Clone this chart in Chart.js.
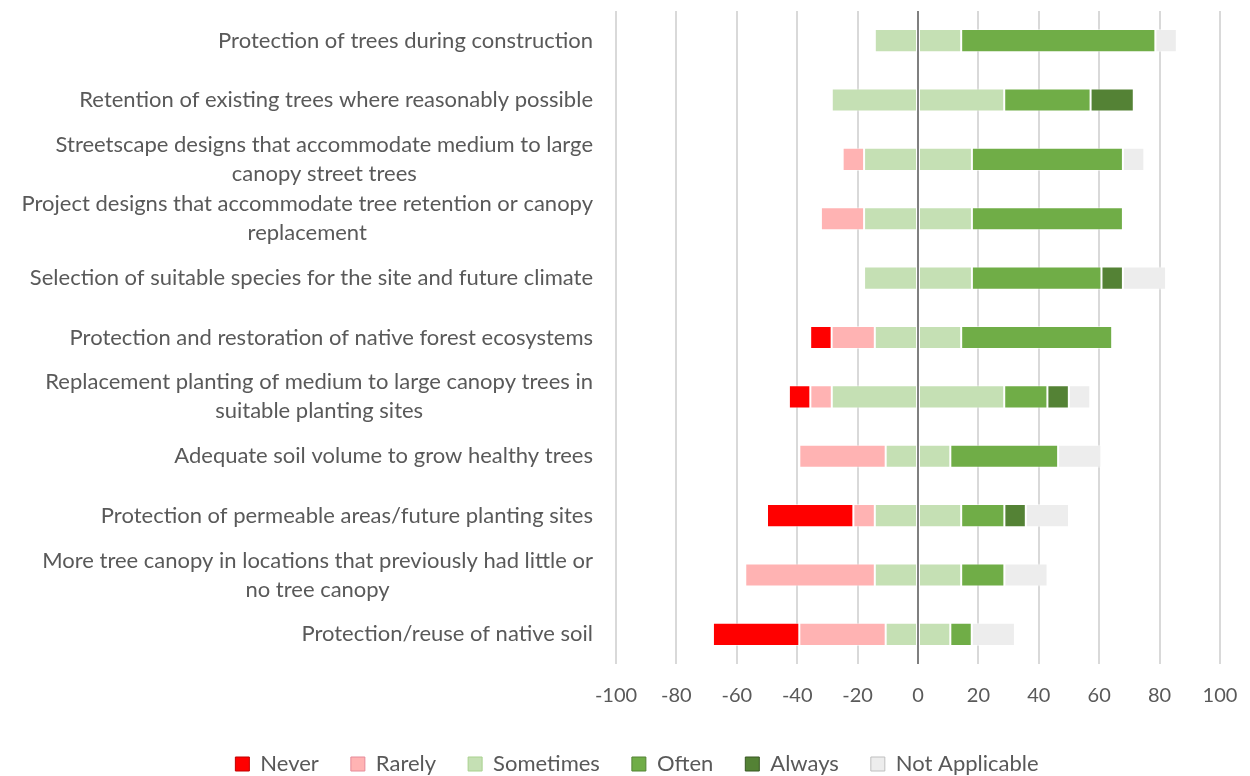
<!DOCTYPE html>
<html>
<head>
<meta charset="utf-8">
<script src="https://cdn.jsdelivr.net/npm/chart.js@4.4.1/dist/chart.umd.min.js"></script>
<style>
  html, body { margin: 0; padding: 0; background: #fff; }
  #wrap { width: 1250px; height: 776px; }
</style>
</head>
<body>
<div id="wrap"><canvas id="practiceChart"></canvas></div>
<script>
const categories = [
    ['Protection of trees during construction'],
    ['Retention of existing trees where reasonably possible '],
    ['Streetscape designs that accommodate medium to large', 'canopy street trees'],
    ['Project designs that accommodate tree retention or canopy', 'replacement'],
    ['Selection of suitable species for the site and future climate'],
    ['Protection and restoration of native forest ecosystems'],
    ['Replacement planting of medium to large canopy trees in', 'suitable planting sites'],
    ['Adequate soil volume to grow healthy trees'],
    ['Protection of permeable areas/future planting sites'],
    ['More tree canopy in locations that previously had little or', 'no tree canopy'],
    ['Protection/reuse of native soil']
];

// percent of respondents
const never     = [0, 0, 0, 0, 0, 7.1, 7.1, 0, 28.6, 0, 28.6];
const rarely    = [0, 0, 7.1, 14.3, 0, 14.3, 7.1, 28.6, 7.1, 42.9, 28.6];
const sometimes = [28.6, 57.1, 35.7, 35.7, 35.7, 28.6, 57.1, 21.4, 28.6, 28.6, 21.4];
const often     = [64.3, 28.6, 50, 50, 42.9, 50, 14.3, 35.7, 14.3, 14.3, 7.1];
const always    = [0, 14.3, 0, 0, 7.1, 0, 7.1, 0, 7.1, 0, 0];
const notApplicable = [7.1, 0, 7.1, 0, 14.3, 0, 7.1, 14.3, 14.3, 14.3, 14.3];

const xTicks = [-100, -80, -60, -40, -20, 0, 20, 40, 60, 80, 100];

const FONT = 'Lato, "Open Sans", sans-serif';
const labelRight = 593;

// draws the wrapped category labels: block right aligned, lines centred to each other
const categoryLabels = {
    id: 'categoryLabels',
    afterLayout(chart) {
        // nudge the legend a little right, like the original
        chart.legend.left += 27;
        chart.legend.right += 27;
    },
    afterDatasetsDraw(chart) {
        // zero line sits on top of the bars
        const ctx = chart.ctx;
        const x0 = chart.scales.x.getPixelForValue(0);
        ctx.save();
        ctx.strokeStyle = '#7F7F7F';
        ctx.lineWidth = 2;
        ctx.beginPath();
        ctx.moveTo(x0, chart.chartArea.top);
        ctx.lineTo(x0, chart.chartArea.bottom);
        ctx.stroke();
        ctx.restore();
    },
    afterDraw(chart) {
        const ctx = chart.ctx;
        const yScale = chart.scales.y;
        ctx.save();
        ctx.font = '22px ' + FONT;
        ctx.fillStyle = '#595959';
        ctx.textBaseline = 'middle';
        ctx.textAlign = 'center';
        const lineH = 29;
        categories.forEach((lines, i) => {
            const yc = yScale.getPixelForValue(i);
            const widest = Math.max(...lines.map(l => ctx.measureText(l.trimEnd()).width));
            const xc = labelRight - widest / 2;
            lines.forEach((line, j) => {
                const y = yc + (j - (lines.length - 1) / 2) * lineH;
                ctx.fillText(line.trimEnd(), xc, y);
            });
        });
        ctx.restore();
    }
};

const ctx = document.getElementById('practiceChart').getContext('2d');
new Chart(ctx, {
    type: 'bar',
    data: {
        labels: categories.map(c => c.join(' ')),
        datasets: [
            { label: 'Never', data: never.map(v => -v), backgroundColor: '#FF0000', legendBorder: '#C00000', order: 3 },
            { label: 'Rarely', data: rarely.map(v => -v), backgroundColor: '#FFB3B3', legendBorder: '#E68A99', order: 2 },
            { label: 'Sometimes', data: sometimes.map(v => v / 2), backgroundColor: '#C5E0B4', legendBorder: '#A9D18E', order: 1 },
            { label: 'Often', data: often, backgroundColor: '#70AD47', legendBorder: '#548235', order: 4 },
            { label: 'Always', data: always, backgroundColor: '#548235', legendBorder: '#385723', order: 5 },
            { label: 'Not Applicable', data: notApplicable, backgroundColor: '#EDEDED', legendBorder: '#BFBFBF', order: 6 },
            { label: 'Sometimes-neg', data: sometimes.map(v => -v / 2), backgroundColor: '#C5E0B4', order: 0, hideInLegend: true }
        ].map(ds => Object.assign(ds, {
            borderColor: 'rgba(255,255,255,0.5)',
            borderWidth: 1,
            borderSkipped: false,
            barPercentage: 0.39,
            categoryPercentage: 1
        }))
    },
    options: {
        indexAxis: 'y',
        responsive: true,
        maintainAspectRatio: false,
        animation: false,
        layout: { padding: { top: 11, right: 30, bottom: -9, left: 0 } },
        scales: {
            x: {
                stacked: true,
                min: -100,
                max: 100,
                afterBuildTicks: scale => { scale.ticks = xTicks.map(v => ({ value: v })); },
                afterFit: scale => {
                    scale.height = 57;
                    scale.paddingLeft = 0;
                    scale.paddingRight = 0;
                },
                border: { display: false },
                grid: {
                    drawTicks: false,
                    lineWidth: 2,
                    color: c => c.tick && c.tick.value === 0 ? '#7F7F7F' : '#D9D9D9'
                },
                ticks: {
                    padding: 20,
                    color: '#595959',
                    font: { family: FONT, size: 20 }
                }
            },
            y: {
                stacked: true,
                afterFit: scale => { scale.width = 616; },
                border: { display: false },
                grid: { display: false },
                ticks: { display: false }
            }
        },
        plugins: {
            legend: {
                position: 'bottom',
                labels: {
                    boxWidth: 14,
                    boxHeight: 14,
                    padding: 32,
                    color: '#595959',
                    font: { family: FONT, size: 22 },
                    sort: (a, b) => a.datasetIndex - b.datasetIndex,
                    filter: (item, data) => !data.datasets[item.datasetIndex].hideInLegend,
                    generateLabels: chart => chart.data.datasets.map((ds, i) => ({
                        text: ds.label,
                        fillStyle: ds.backgroundColor,
                        strokeStyle: ds.legendBorder || ds.backgroundColor,
                        lineWidth: 1,
                        fontColor: '#595959',
                        hidden: false,
                        datasetIndex: i
                    }))
                }
            },
            tooltip: { enabled: false }
        }
    },
    plugins: [categoryLabels]
});
</script>
</body>
</html>
